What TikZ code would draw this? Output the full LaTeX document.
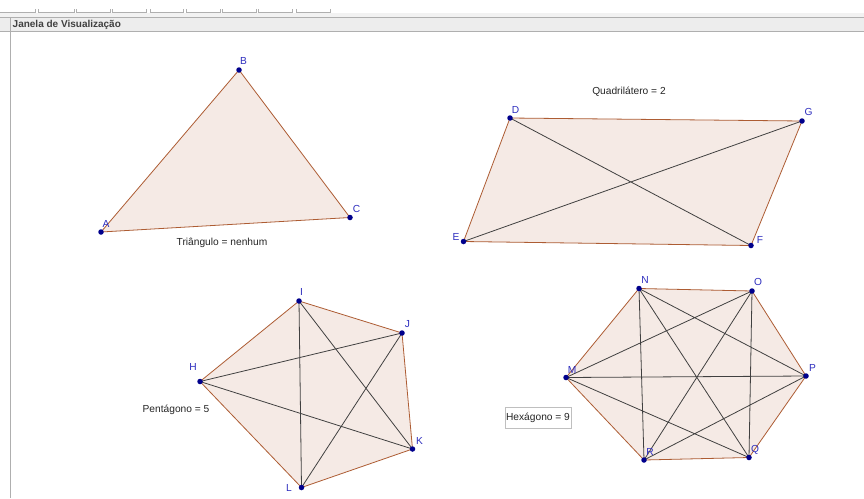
\documentclass[tikz,border=0pt]{standalone}
\usepackage{fontspec}
\setmainfont{Liberation Sans}
\definecolor{marron}{RGB}{153,51,0}
\definecolor{relleno}{RGB}{245,234,229}
\definecolor{azulpt}{RGB}{0,0,140}
\definecolor{azulrot}{RGB}{45,45,190}
\definecolor{gris}{RGB}{175,175,175}
\begin{document}
\begin{tikzpicture}[x=1pt, y=-1pt, font=\fontsize{10.2}{12}\selectfont,
		poligono/.style={fill=relleno, draw=marron!80, line width=0.8pt},
		diagonal/.style={draw=black!75, line width=0.8pt},
		ponto/.style={circle, fill=azulpt, inner sep=0pt, minimum size=5.5pt},
		rotulo/.style={text=azulrot, inner sep=0pt},
		texto/.style={text=black!85, inner sep=0pt},
		aba/.style={draw=gris, line width=0.7pt}]
	\useasboundingbox (0,0) rectangle (864,498);
	\fill[white] (0,0) rectangle (864,498);
	\fill[black!5] (0,12.5) rectangle (864,17);
	\foreach \xa/\xb in {-2/35, 38/74, 76/110, 112/146, 150/183, 186/220, 222/256, 258/292, 296/330}
		\draw[aba] (\xa,9) -- (\xa,12.5) -- (\xb,12.5) -- (\xb,9);
	\draw[gris] (0,17.5) -- (864,17.5);
	\fill[black!7] (0,18) rectangle (864,31);
	\draw[gris] (0,31.5) -- (864,31.5);
	\draw[gris] (10.5,18) -- (10.5,498);
	\node[anchor=west, inner sep=0pt, text=black!75, font=\fontsize{10}{12}\selectfont\bfseries] (janela) at (12.5,24.5) {Janela de Visualização};

	\coordinate (A) at (101,232);
	\coordinate (B) at (239,70);
	\coordinate (C) at (350,217.5);
	\coordinate (D) at (510,118);
	\coordinate (G) at (802,121);
	\coordinate (F) at (751,245.5);
	\coordinate (E) at (463.5,241.5);
	\coordinate (I) at (299,301);
	\coordinate (J) at (402,333);
	\coordinate (K) at (412.5,449);
	\coordinate (L) at (301.5,487.5);
	\coordinate (H) at (200,381.5);
	\coordinate (N) at (639,288.5);
	\coordinate (O) at (752,291);
	\coordinate (P) at (806,376);
	\coordinate (Q) at (749,457.5);
	\coordinate (R) at (644,460);
	\coordinate (M) at (566,377.5);

	\draw[poligono] (A) -- (B) -- (C) -- cycle;
	\draw[poligono] (D) -- (G) -- (F) -- (E) -- cycle;
	\draw[poligono] (I) -- (J) -- (K) -- (L) -- (H) -- cycle;
	\draw[poligono] (N) -- (O) -- (P) -- (Q) -- (R) -- (M) -- cycle;

	\draw[diagonal] (D) -- (F) (E) -- (G);
	\draw[diagonal] (H) -- (J) (H) -- (K) (I) -- (L) (I) -- (K) (J) -- (L);
	\draw[diagonal] (M) -- (O) (M) -- (P) (M) -- (Q) (N) -- (P) (N) -- (Q) (N) -- (R)
		(O) -- (Q) (O) -- (R) (P) -- (R);

	\foreach \p in {A,B,C,D,E,F,G,H,I,J,K,L,M,N,O,P,Q,R}
		\node[ponto] (p\p) at (\p) {};

	\node[rotulo] (lA) at (106,224) {A};
	\node[rotulo] (lB) at (243.5,61) {B};
	\node[rotulo] (lC) at (356.5,209) {C};
	\node[rotulo] (lD) at (515.5,109.5) {D};
	\node[rotulo] (lG) at (808.5,112) {G};
	\node[rotulo] (lE) at (456,236.5) {E};
	\node[rotulo] (lF) at (760,240) {F};
	\node[rotulo] (lI) at (301.5,292) {I};
	\node[rotulo] (lJ) at (407.5,324) {J};
	\node[rotulo] (lK) at (419.5,441) {K};
	\node[rotulo] (lL) at (289,488) {L};
	\node[rotulo] (lH) at (193,367) {H};
	\node[rotulo] (lN) at (645,280) {N};
	\node[rotulo] (lO) at (758,282) {O};
	\node[rotulo] (lP) at (812.5,368) {P};
	\node[rotulo] (lQ) at (755,450) {Q};
	\node[rotulo] (lR) at (650,452) {R};
	\node[rotulo] (lM) at (572,370) {M};

	\node[texto] (triangulo) at (222,243) {Triângulo = nenhum};
	\node[texto] (quadrilatero) at (629,92) {Quadrilátero = 2};
	\node[texto] (pentagono) at (176,410) {Pentágono = 5};
	\node[texto, draw=black!25, fill=white, minimum width=66pt, minimum height=21pt] (hexagono) at (538,417.5) {Hexágono = 9};
\end{tikzpicture}
\end{document}
